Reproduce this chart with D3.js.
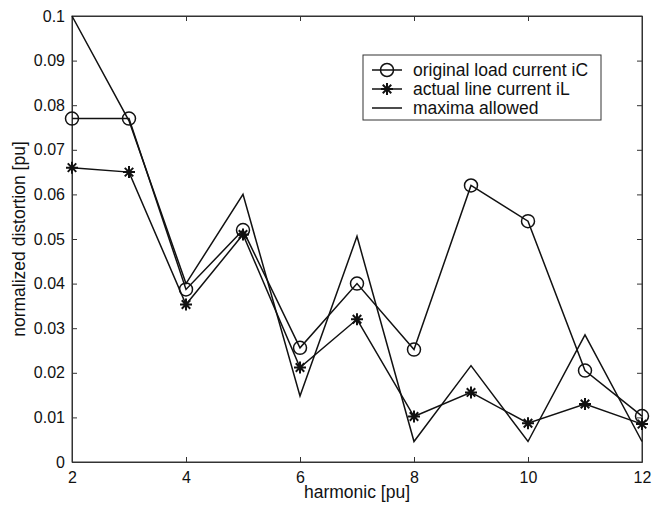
<!DOCTYPE html>
<html>
<head>
<meta charset="utf-8">
<script src="https://cdn.jsdelivr.net/npm/d3@7"></script>
<style>
  html, body { margin: 0; padding: 0; background: #fff; }
  svg text { font-family: "Liberation Sans", Arial, sans-serif; fill: #111; }
</style>
</head>
<body>
<svg id="chart" width="653" height="511"></svg>
<script>
// harmonics (x) and the three series
const harmonics = [2, 3, 4, 5, 6, 7, 8, 9, 10, 11, 12];
const loadCurrent = [0.077, 0.077, 0.0387, 0.052, 0.0256, 0.040, 0.0252, 0.062, 0.054, 0.0205, 0.0103];
const lineCurrent = [0.066, 0.065, 0.0353, 0.051, 0.0212, 0.032, 0.0102, 0.0156, 0.0087, 0.013, 0.0085];
const maximaAllowed = [0.1, 0.0765, 0.040, 0.060, 0.0148, 0.0506, 0.0046, 0.0216, 0.0046, 0.0285, 0.0046];

const xTicks = [2, 4, 6, 8, 10, 12];
const yTicks = [0, 0.01, 0.02, 0.03, 0.04, 0.05, 0.06, 0.07, 0.08, 0.09, 0.1];
const legendLabels = ["original load current iC", "actual line current iL", "maxima allowed"];

const W = 653, H = 511;
const margin = { top: 16, right: 11, bottom: 49, left: 72 };

const svg = d3.select("#chart");

const x = d3.scaleLinear().domain([2, 12]).range([margin.left, W - margin.right]);
const y = d3.scaleLinear().domain([0, 0.1]).range([H - margin.bottom, margin.top]);

const tickLen = 5;
const ink = "#111";

// box
svg.append("rect")
  .attr("x", x(2)).attr("y", y(0.1))
  .attr("width", x(12) - x(2)).attr("height", y(0) - y(0.1))
  .attr("fill", "none").attr("stroke", "#333").attr("stroke-width", 1);

// axes with inward ticks (MATLAB style)
const fmtY = d => d === 0 ? "0" : d3.format(".2~f")(d);

const bottomAxis = svg.append("g")
  .attr("transform", `translate(0,${y(0)})`)
  .call(d3.axisBottom(x).tickValues(xTicks).tickSizeInner(-tickLen).tickSizeOuter(0).tickPadding(9.5));
const leftAxis = svg.append("g")
  .attr("transform", `translate(${x(2)},0)`)
  .call(d3.axisLeft(y).tickValues(yTicks).tickFormat(fmtY).tickSizeInner(-tickLen).tickSizeOuter(0).tickPadding(7));
const topAxis = svg.append("g")
  .attr("transform", `translate(0,${y(0.1)})`)
  .call(d3.axisTop(x).tickValues(xTicks).tickSizeInner(-tickLen).tickSizeOuter(0).tickFormat(""));
const rightAxis = svg.append("g")
  .attr("transform", `translate(${x(12)},0)`)
  .call(d3.axisRight(y).tickValues(yTicks).tickSizeInner(-tickLen).tickSizeOuter(0).tickFormat(""));

[bottomAxis, leftAxis, topAxis, rightAxis].forEach(g => {
  g.select(".domain").attr("stroke", "#333");
  g.selectAll(".tick line").attr("stroke", "#333");
  g.selectAll("text").attr("font-size", 16).attr("fill", ink)
    .attr("font-family", "Liberation Sans, Arial, sans-serif");
});

// axis labels
svg.append("text")
  .attr("x", (x(2) + x(12)) / 2).attr("y", 498)
  .attr("text-anchor", "middle").attr("font-size", 17.5)
  .text("harmonic [pu]");
svg.append("text")
  .attr("transform", `translate(25,${(y(0) + y(0.1)) / 2}) rotate(-90)`)
  .attr("text-anchor", "middle").attr("font-size", 17.5)
  .text("normalized distortion [pu]");

// lines
const line = d3.line().x((d, i) => x(harmonics[i])).y(d => y(d));
const plot = svg.append("g").attr("fill", "none").attr("stroke", ink).attr("stroke-width", 1.5);

plot.append("path").attr("d", line(maximaAllowed));
plot.append("path").attr("d", line(loadCurrent));
plot.append("path").attr("d", line(lineCurrent));

// markers
function circleMarker(g, cx, cy) {
  g.append("circle").attr("cx", cx).attr("cy", cy).attr("r", 6.5)
    .attr("fill", "none").attr("stroke", ink).attr("stroke-width", 1.5);
}
function starMarker(g, cx, cy) {
  const r = 6;
  const d = r * Math.SQRT1_2;
  const p = `M${cx - r},${cy}L${cx + r},${cy}M${cx},${cy - r}L${cx},${cy + r}` +
    `M${cx - d},${cy - d}L${cx + d},${cy + d}M${cx - d},${cy + d}L${cx + d},${cy - d}`;
  g.append("path").attr("d", p).attr("stroke", ink).attr("stroke-width", 2).attr("fill", "none");
}

const markers = svg.append("g");
loadCurrent.forEach((v, i) => circleMarker(markers, x(harmonics[i]), y(v)));
lineCurrent.forEach((v, i) => starMarker(markers, x(harmonics[i]), y(v)));

// legend
const lg = svg.append("g").attr("transform", "translate(363,55)");
lg.append("rect").attr("width", 238).attr("height", 65)
  .attr("fill", "#fff").attr("stroke", "#333").attr("stroke-width", 1);
const rows = [15, 34, 53];
legendLabels.forEach((lab, i) => {
  lg.append("line").attr("x1", 9).attr("x2", 39).attr("y1", rows[i]).attr("y2", rows[i])
    .attr("stroke", ink).attr("stroke-width", 1.5);
  if (i === 0) circleMarker(lg, 24, rows[i]);
  if (i === 1) starMarker(lg, 24, rows[i]);
  lg.append("text").attr("x", 50).attr("y", rows[i]).attr("dy", "0.36em")
    .attr("font-size", 17.5).text(lab);
});
</script>
</body>
</html>
